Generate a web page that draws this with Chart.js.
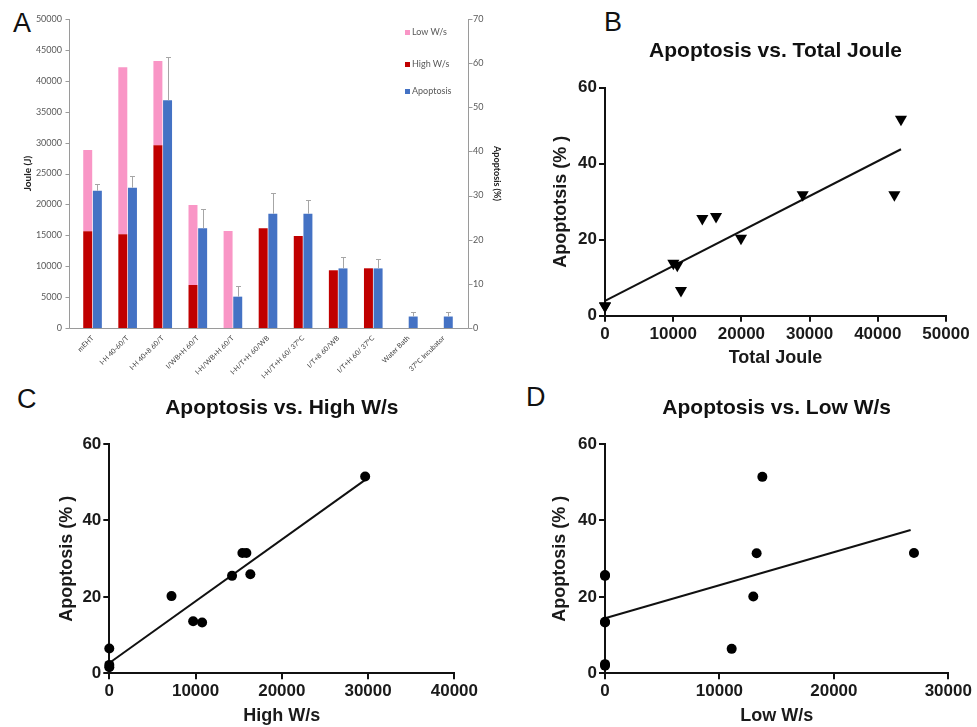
<!DOCTYPE html>
<html>
<head>
<meta charset="utf-8">
<script src="https://cdn.jsdelivr.net/npm/chart.js@4.4.1/dist/chart.umd.min.js"></script>
<style>
    body { margin: 0; background: #fff; width: 977px; height: 727px; position: relative; overflow: hidden; font-family: "Liberation Sans", Arial, sans-serif; }
    canvas { position: absolute; }
    .panel { position: absolute; font-size: 27px; line-height: 1; color: #111; }
    .leg { position: absolute; left: 405px; font: 9px Lato, "Liberation Sans", sans-serif; color: #595959; line-height: 12px; }
    .leg i { display: inline-block; width: 5px; height: 5px; margin-right: 2px; vertical-align: 0; }
</style>
</head>
<body>
<div class="panel" style="left:13px;top:10px">A</div>
<div class="panel" style="left:604px;top:9px">B</div>
<div class="panel" style="left:17px;top:386px">C</div>
<div class="panel" style="left:526px;top:384px">D</div>

<canvas id="chartA" width="510" height="385" style="left:0;top:0"></canvas>
<canvas id="chartB" width="437" height="345" style="left:540px;top:30px"></canvas>
<canvas id="chartC" width="440" height="347" style="left:40px;top:380px"></canvas>
<canvas id="chartD" width="437" height="347" style="left:540px;top:380px"></canvas>

<div class="leg" style="top:26px"><i style="background:#f996c6"></i>Low W/s</div>
<div class="leg" style="top:58px"><i style="background:#c00000"></i>High W/s</div>
<div class="leg" style="top:85px"><i style="background:#4472c4"></i>Apoptosis</div>

<script>
// Panel A – bar chart
const CATS = ['mEHT', 'I-H 40-60/T', 'I-H 40+8 60/T', 'I/WB+H 60/T', 'I-H/WB+H 60/T', 'I-H/T+H 60/WB',
              'I-H/T+H 60/ 37°C', 'I/T+8 60/WB', 'I/T+H 60/ 37°C', 'Water Bath', '37°C Incubator'];
const HIGH_WS  = [15670, 15190, 29560, 6960, 0, 16130, 14890, 9340, 9660, 0, 0];
const LOW_WS   = [13130, 26990, 13640, 12940, 15700, 0, 0, 0, 0, 0, 0];
const APOP     = [31.1, 31.8, 51.6, 22.6, 7.1, 25.9, 25.9, 13.5, 13.5, 2.6, 2.6];
const APOP_ERR = [1.5, 2.6, 9.9, 4.4, 2.5, 4.6, 3.0, 2.6, 2.2, 1.0, 1.1];

// Panel B – apoptosis vs total joule
const B_X = [0, 0, 10020, 10600, 11140, 14270, 16280, 19940, 28990, 42430, 43400];
const B_Y = [2.5, 2.6, 13.8, 13.3, 6.6, 25.6, 26.1, 20.4, 31.8, 31.8, 51.7];
const B_FIT_X = [0, 43400];
const B_FIT_Y = [3.9, 43.8];

// Panel C – apoptosis vs high W/s
const C_X = [0, 0, 0, 7210, 9720, 10760, 14230, 15430, 15890, 16350, 29660];
const C_Y = [6.5, 2.2, 1.6, 20.2, 13.6, 13.3, 25.5, 31.5, 31.5, 25.9, 51.5];
const C_FIT_X = [0, 29660];
const C_FIT_Y = [2.7, 50.6];

// Panel D – apoptosis vs low W/s
const D_X = [0, 0, 0, 0, 0, 0, 11070, 12960, 13250, 13750, 27000];
const D_Y = [25.5, 25.7, 13.3, 13.5, 2.0, 2.4, 6.4, 20.1, 31.4, 51.4, 31.5];
const D_FIT_X = [0, 26710];
const D_FIT_Y = [14.4, 37.5];

const errorBars = {
    id: 'errorBars',
    afterDatasetsDraw(chart) {
        const { ctx } = chart;
        chart.data.datasets.forEach((ds, i) => {
            if (!ds.errors) return;
            const scale = chart.scales[ds.yAxisID];
            chart.getDatasetMeta(i).data.forEach((bar, j) => {
                const top = Math.round(scale.getPixelForValue(ds.data[j] + ds.errors[j])) + 0.5;
                const x = Math.round(bar.x) + 0.5;
                ctx.save();
                ctx.strokeStyle = '#a6a6a6';
                ctx.lineWidth = 1;
                ctx.beginPath();
                ctx.moveTo(x, bar.y); ctx.lineTo(x, top);
                ctx.moveTo(x - 2.5, top); ctx.lineTo(x + 2.5, top);
                ctx.stroke();
                ctx.restore();
            });
        });
    }
};

// excel style axes, set a little outside the plot area
const excelAxes = {
    id: 'excelAxes',
    afterDraw(chart, args, opts) {
        const { ctx, chartArea: ca, scales } = chart;
        const xl = Math.round(ca.left - opts.inset) + 0.5;
        const xr = Math.round(ca.right + opts.inset) + 0.5;
        const yb = Math.round(ca.bottom) + 0.5;
        ctx.save();
        ctx.strokeStyle = '#9a9a9a';
        ctx.lineWidth = 1;
        ctx.beginPath();
        ctx.moveTo(xl, ca.top); ctx.lineTo(xl, yb); ctx.lineTo(xr, yb); ctx.lineTo(xr, ca.top);
        scales.y.ticks.forEach(t => {
            const py = Math.round(scales.y.getPixelForValue(t.value)) + 0.5;
            ctx.moveTo(xl - 4, py); ctx.lineTo(xl, py);
        });
        scales.y2.ticks.forEach(t => {
            const py = Math.round(scales.y2.getPixelForValue(t.value)) + 0.5;
            ctx.moveTo(xr, py); ctx.lineTo(xr + 4, py);
        });
        ctx.stroke();
        ctx.restore();
    }
};

const topTitle = {
    id: 'topTitle',
    afterDraw(chart, args, opts) {
        const { ctx, chartArea } = chart;
        ctx.save();
        ctx.font = 'bold 21px "Liberation Sans", Arial, sans-serif';
        ctx.fillStyle = '#111';
        ctx.textAlign = 'center';
        ctx.textBaseline = 'middle';
        ctx.fillText(opts.text, (chartArea.left + chartArea.right) / 2, chartArea.top - opts.gap);
        ctx.restore();
    }
};

const fontA = 'Lato, "Liberation Sans", sans-serif';
const barOpts = { categoryPercentage: 0.55, barPercentage: 0.93 };

new Chart(document.getElementById('chartA'), {
    type: 'bar',
    data: {
        labels: CATS,
        datasets: [
            { label: 'High W/s', data: HIGH_WS, backgroundColor: '#c00000', stack: 'joule', yAxisID: 'y', ...barOpts },
            { label: 'Low W/s', data: LOW_WS, backgroundColor: '#f996c6', stack: 'joule', yAxisID: 'y', ...barOpts },
            { label: 'Apoptosis', data: APOP, backgroundColor: '#4472c4', stack: 'apop', yAxisID: 'y2', errors: APOP_ERR, ...barOpts },
        ],
    },
    options: {
        responsive: false,
        animation: false,
        layout: { padding: { top: 19, left: 0, right: 0, bottom: 0 } },
        plugins: { legend: { display: false }, tooltip: { enabled: false }, excelAxes: { inset: 6.5 } },
        scales: {
            x: {
                stacked: true,
                grid: { display: false, drawTicks: false },
                border: { display: false },
                ticks: { autoSkip: false, minRotation: 45, maxRotation: 45, padding: 6, color: '#404040', font: { family: fontA, size: 7 } },
                afterFit: s => { s.height = 57; },
            },
            y: {
                stacked: true, min: 0, max: 50000,
                grid: { display: false, drawTicks: false },
                border: { display: false },
                ticks: { stepSize: 5000, padding: 13, color: '#595959', font: { family: fontA, size: 9 }, callback: v => String(v) },
                title: { display: true, text: 'Joule (J)', color: '#222', font: { family: fontA, size: 10, weight: 'bold' }, padding: { top: 22, bottom: 0 } },
                afterFit: s => { s.width = 75; },
            },
            y2: {
                position: 'right', min: 0, max: 70,
                grid: { display: false, drawTicks: false },
                border: { display: false },
                ticks: { stepSize: 10, padding: 12, color: '#595959', font: { family: fontA, size: 9 } },
                title: { display: true, text: 'Apoptosis (%)', color: '#222', font: { family: fontA, size: 9, weight: 'bold' }, padding: { top: 7.6, bottom: 0 } },
                afterFit: s => { s.width = 49; },
            },
        },
    },
    plugins: [errorBars, excelAxes],
});

function toPoints(xs, ys) {
    return xs.map((x, i) => ({ x, y: ys[i] }));
}

function scatterPanel(id, cfg) {
    const tickFont = { family: '"Liberation Sans", Arial, sans-serif', size: 17, weight: 'bold' };
    const titleFont = { family: '"Liberation Sans", Arial, sans-serif', size: 18, weight: 'bold' };
    const axisGrid = { drawOnChartArea: false, drawTicks: true, tickLength: 6, color: '#111', lineWidth: 2 };
    return new Chart(document.getElementById(id), {
        type: 'scatter',
        data: {
            datasets: [
                {
                    data: toPoints(cfg.xs, cfg.ys),
                    pointStyle: cfg.marker, rotation: cfg.marker === 'triangle' ? 180 : 0,
                    pointRadius: cfg.radius, backgroundColor: '#000', borderColor: '#000', borderWidth: 0,
                    clip: false,
                },
                {
                    data: toPoints(cfg.fitX, cfg.fitY),
                    showLine: true, pointRadius: 0, borderColor: '#111', borderWidth: 2, clip: false,
                },
            ],
        },
        options: {
            responsive: false,
            animation: false,
            layout: { padding: { top: cfg.top, right: cfg.right, left: 0, bottom: 0 } },
            plugins: { legend: { display: false }, tooltip: { enabled: false }, topTitle: { text: cfg.title, gap: 36 } },
            scales: {
                x: {
                    min: 0, max: cfg.xMax,
                    grid: axisGrid,
                    border: { color: '#111', width: 2 },
                    ticks: { stepSize: 10000, padding: 2, color: '#1a1a1a', font: tickFont, callback: v => String(v) },
                    title: { display: true, text: cfg.xTitle, color: '#1a1a1a', font: titleFont, padding: { top: 0, bottom: cfg.xTitlePad } },
                    afterFit: s => { s.height = cfg.xHeight; },
                },
                y: {
                    min: 0, max: 60,
                    grid: axisGrid,
                    border: { color: '#111', width: 2 },
                    ticks: { stepSize: 20, padding: 2, color: '#1a1a1a', font: tickFont },
                    title: { display: true, text: cfg.yTitle, color: '#1a1a1a', font: titleFont, padding: { top: cfg.yTitlePad, bottom: 0 } },
                    afterFit: s => { s.width = cfg.yWidth; },
                },
            },
        },
        plugins: [topTitle],
    });
}

scatterPanel('chartB', {
    title: 'Apoptosis vs. Total Joule', xTitle: 'Total Joule', yTitle: 'Apoptotsis (% )',
    xs: B_X, ys: B_Y, fitX: B_FIT_X, fitY: B_FIT_Y, xMax: 50000,
    marker: 'triangle', radius: 7,
    top: 57.7, right: 31, yWidth: 65, xHeight: 59.3, yTitlePad: 10.2, xTitlePad: 6.2,
});

scatterPanel('chartC', {
    title: 'Apoptosis vs. High W/s', xTitle: 'High W/s', yTitle: 'Apoptosis (% )',
    xs: C_X, ys: C_Y, fitX: C_FIT_X, fitY: C_FIT_Y, xMax: 40000,
    marker: 'circle', radius: 5,
    top: 64, right: 25, yWidth: 69.3, xHeight: 53.7, yTitlePad: 16.7, xTitlePad: 0.2,
});

scatterPanel('chartD', {
    title: 'Apoptosis vs. Low W/s', xTitle: 'Low W/s', yTitle: 'Apoptosis (% )',
    xs: D_X, ys: D_Y, fitX: D_FIT_X, fitY: D_FIT_Y, xMax: 30000,
    marker: 'circle', radius: 5,
    top: 64, right: 28.7, yWidth: 65, xHeight: 53.7, yTitlePad: 9.2, xTitlePad: 0,
});
</script>
</body>
</html>
